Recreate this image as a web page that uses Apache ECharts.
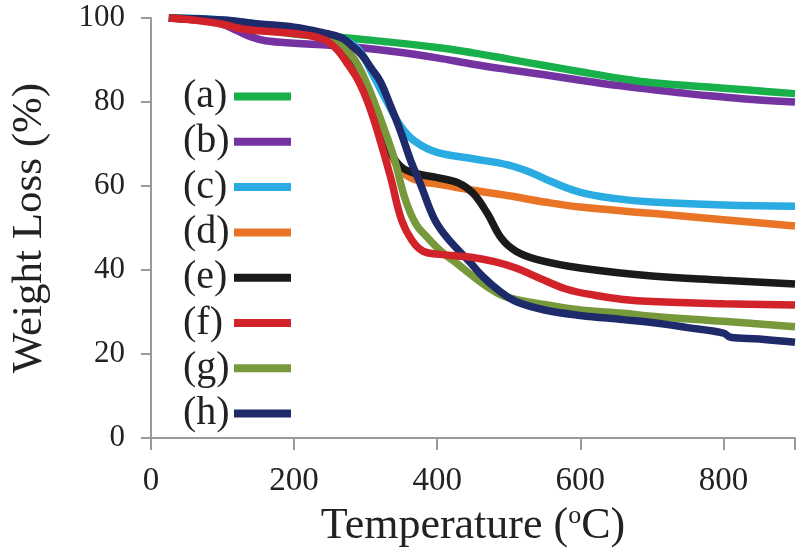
<!DOCTYPE html>
<html><head><meta charset="utf-8">
<script src="https://cdn.jsdelivr.net/npm/echarts@6/dist/echarts.min.js"></script>
<style>html,body{margin:0;padding:0;background:#fff}#c{width:800px;height:553px}</style>
</head><body><div id="c"></div>
<script>
const seriesNames = ['(a)','(b)','(c)','(d)','(e)','(f)','(g)','(h)'];
const colors = ['#18B04B','#7433A0','#2AABE2','#EA7425','#1A1A1A','#D2232A','#77993B','#1F2A6A'];
const xTicks = [0,200,400,600,800];
const yTicks = [0,20,40,60,80,100];

const dataA = [[25,100],[60,99.8],[100,99.2],[150,97.5],[200,96.2],[260,95.5],[320,94.5],[400,93],[450,91.7],[500,90.2],[550,88.7],[600,87.2],[660,85.5],[700,84.6],[800,83.3],[860,82.5],[900,82]];
const dataB = [[25,100],[80,99.5],[100,98.5],[120,97],[140,95.5],[160,94.6],[200,94],[250,93.5],[300,92.8],[350,91.8],[400,90.5],[450,89],[500,87.7],[550,86.5],[600,85.2],[650,84],[700,83],[750,82],[800,81.2],[850,80.5],[900,80]];
const dataC = [[25,100],[100,99.5],[200,97.3],[260,95.5],[290,92.5],[310,86.5],[330,80],[350,74],[370,70.5],[400,68],[450,66.5],[500,65],[530,63.3],[560,61],[600,58.5],[650,57],[700,56.2],[800,55.5],[900,55.2]];
const dataD = [[25,100],[100,99],[200,96.5],[255,94.5],[275,91],[295,84.5],[315,76],[335,67.5],[355,62.8],[380,61],[400,60.5],[450,59],[500,57.7],[550,56.2],[600,55],[700,53.5],[800,52],[900,50.5]];
const dataE = [[25,100],[100,99],[200,97],[250,95.5],[280,91],[300,84],[320,75],[335,68],[350,64.5],[370,63],[400,62],[430,60.7],[450,58.3],[470,53.5],[490,47.5],[510,44.5],[540,42.5],[600,40.5],[700,38.6],[800,37.6],[900,36.7]];
const dataF = [[25,100],[60,99.5],[100,98.5],[130,97.3],[200,96.3],[240,95],[260,92.5],[275,89],[290,85],[305,79],[320,71],[335,62],[350,52],[365,47],[380,44.5],[400,43.8],[450,43],[480,42],[510,40.5],[540,38.3],[580,35.5],[620,34],[660,33],[700,32.5],[800,32],[900,31.7]];
const dataG = [[25,100],[100,99.3],[200,97],[250,95.5],[270,93],[285,90],[300,85],[312,80],[325,74],[340,66.5],[355,57],[370,51],[386,47.8],[405,44.5],[428,41.5],[450,38.5],[470,36],[490,34],[510,33],[550,31.8],[600,30.5],[660,29.7],[700,29],[800,27.8],[900,26.5]];
const dataH = [[25,100],[100,99.5],[150,98.6],[200,97.8],[240,96.5],[266,95.3],[280,93.5],[294,91.3],[308,88],[321,84.7],[335,79],[349,72.9],[363,66],[377,60.3],[395,52.5],[410,48.5],[428,45],[445,42],[464,38.4],[487,35],[510,32.5],[550,30.5],[600,29.2],[660,28.2],[700,27.5],[750,26.3],[800,25],[810,24],[850,23.6],[900,22.8]];
const allData = [dataA,dataB,dataC,dataD,dataE,dataF,dataG,dataH];

const font = '"Liberation Serif","Times New Roman",serif';
const chart = echarts.init(document.getElementById('c'));
const zorder = [1,0,2,3,4,7,5,6];
chart.setOption({
  animation:false,
  backgroundColor:'#fff',
  grid:{left:144,right:5,top:18,bottom:110,containLabel:false},
  legend:{
    orient:'vertical', left:178, top:71.5, align:'right', padding:5,
    itemWidth:57, itemHeight:8, itemGap:5.3, itemTextGap:14,
    icon:'rect',
    formatter: name => '{n|' + name + '}',
    textStyle:{fontFamily:font,fontSize:40,color:'#222',lineHeight:40,
      rich:{n:{fontFamily:font,fontSize:40,color:'#222',lineHeight:40,width:46,align:'left'}}},
    data:seriesNames
  },
  xAxis:{
    type:'value', min:0, max:900, interval:200,
    axisLine:{show:true,onZero:false,lineStyle:{color:'#9a9a9a',width:2}},
    axisTick:{show:true,length:12,lineStyle:{color:'#9a9a9a',width:2}},
    axisLabel:{fontFamily:font,fontSize:33,color:'#222',margin:27,
      formatter:v=>xTicks.includes(v)?String(v):''},
    splitLine:{show:false},
    name:'{t|Temperature (}{s|o}{t|C)}', nameLocation:'middle', nameGap:64,
    nameTextStyle:{rich:{t:{fontFamily:font,fontSize:44,color:'#222'},s:{fontFamily:font,fontSize:26,color:'#222',verticalAlign:'top',padding:[0,0,20,0]}}}
  },
  yAxis:{
    type:'value', min:0, max:100, interval:20,
    axisLine:{show:true,lineStyle:{color:'#9a9a9a',width:2}},
    axisTick:{show:true,length:10,lineStyle:{color:'#9a9a9a',width:2}},
    axisLabel:{fontFamily:font,fontSize:31,color:'#222',margin:26,
      formatter:v=>yTicks.includes(v)?String(v):''},
    splitLine:{show:false},
    name:'Weight Loss (%)', nameLocation:'middle', nameGap:100,
    nameTextStyle:{fontFamily:font,fontSize:43,color:'#222'}
  },
  series: seriesNames.map((n,i)=>({
    name:n, type:'line', data:allData[i], smooth:0.4, showSymbol:false,
    z: 2+zorder[i],
    lineStyle:{color:colors[i],width:7.5}, itemStyle:{color:colors[i]}
  }))
});
</script></body></html>
